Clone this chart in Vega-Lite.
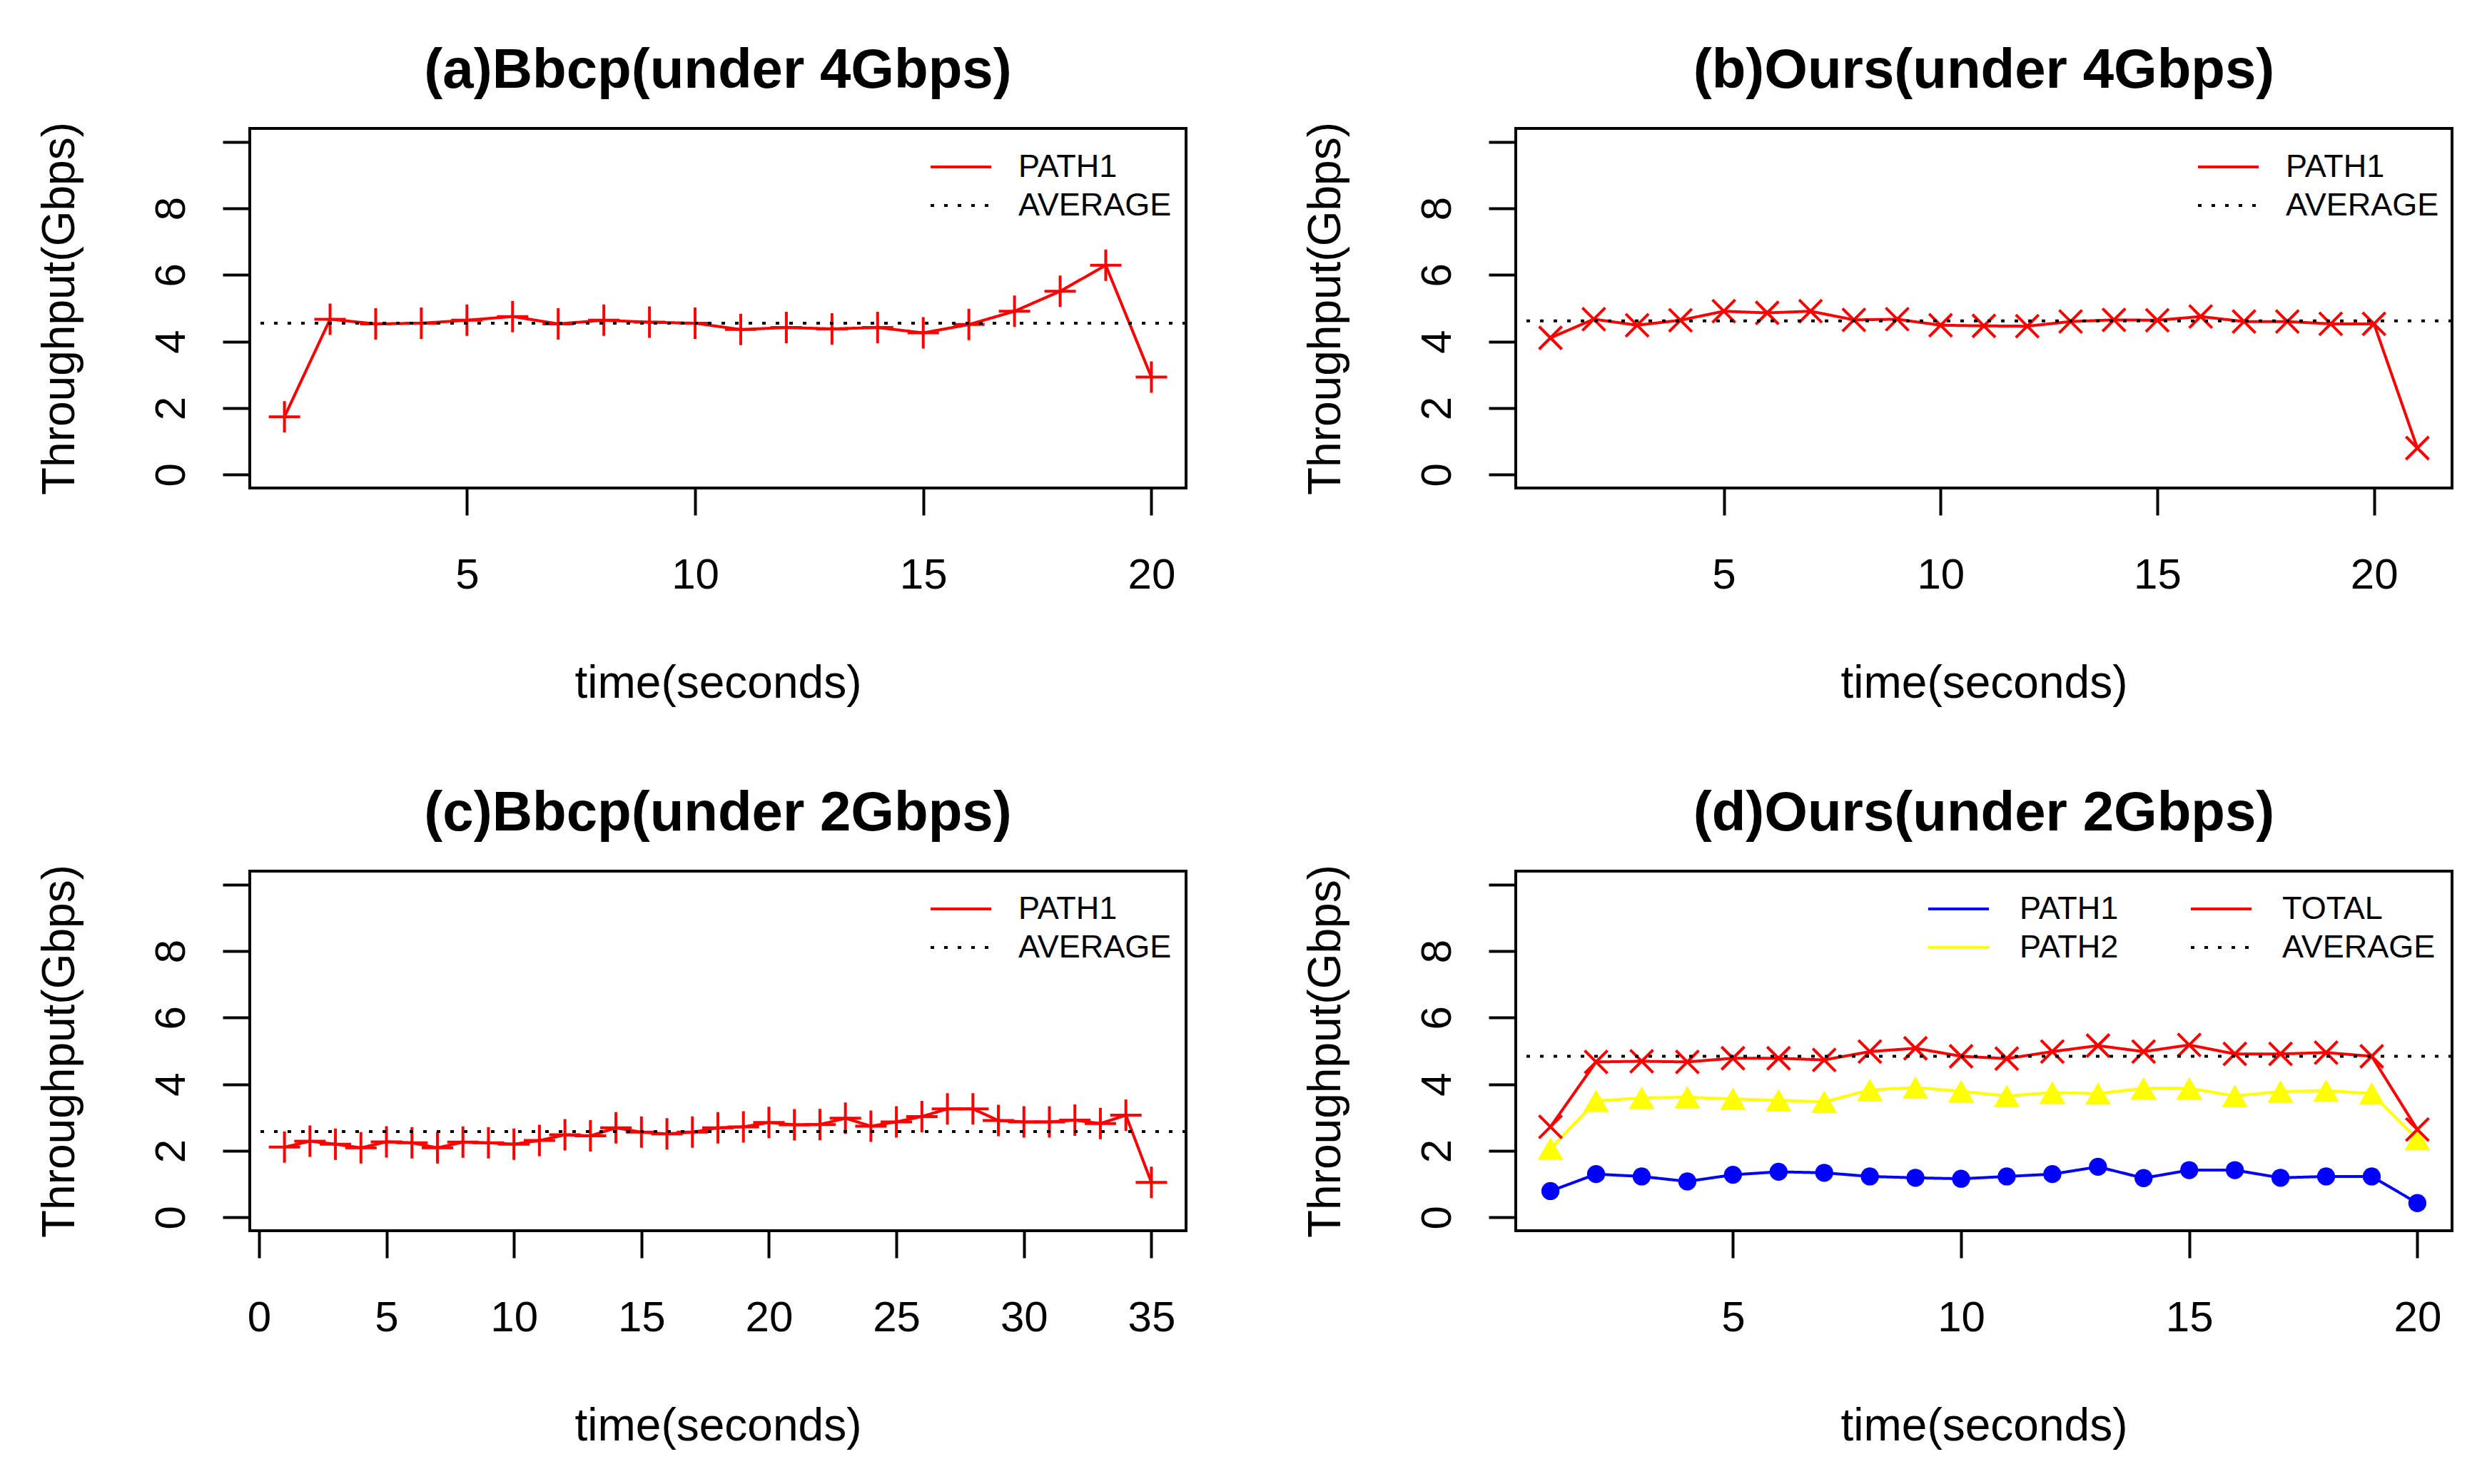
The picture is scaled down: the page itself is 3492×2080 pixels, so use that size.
{
  "$schema": "https://vega.github.io/schema/vega-lite/v6.json",
  "padding": {"left": 50, "top": 58, "right": 5, "bottom": 5},
  "background": "white",
  "config": {
    "font": "Liberation Sans",
    "view": {"stroke": "#000000", "strokeWidth": 4},
    "axis": {"grid": false, "domain": false, "tickColor": "#000000", "tickWidth": 4, "tickSize": 38, "labelFontSize": 60, "labelColor": "#000000", "titleFontSize": 64, "titleFontWeight": "normal", "titleColor": "#000000", "labelFont": "Liberation Sans", "titleFont": "Liberation Sans", "labelFlush": false, "labelOverlap": false},
    "axisX": {"labelPadding": 102, "labelBaseline": "alphabetic", "titleBaseline": "alphabetic", "titleY": 293, "titleX": 656, "titleAlign": "center", "format": "d"},
    "axisY": {"labelAngle": -90, "labelAlign": "center", "labelBaseline": "alphabetic", "labelPadding": 54, "titleAngle": -90, "titleBaseline": "alphabetic", "titleX": -247, "titleY": 252, "titleAlign": "center"},
    "title": {"fontSize": 78, "fontWeight": "bold", "color": "#000000", "offset": 32, "baseline": "alphabetic", "frame": "group", "anchor": "middle", "font": "Liberation Sans"},
    "legend": {"symbolType": "stroke", "symbolSize": 7225, "symbolStrokeWidth": 4, "labelFontSize": 45, "labelFont": "Liberation Sans", "labelColor": "#000000", "labelOffset": 36, "labelLimit": 1000, "padding": 0, "clipHeight": 52, "rowPadding": 2}
  },
  "datasets": {
    "a": [
      {"t": 1, "v": 1.74, "s": "PATH1"}, {"t": 2, "v": 4.67, "s": "PATH1"}, {"t": 3, "v": 4.53, "s": "PATH1"}, {"t": 4, "v": 4.55, "s": "PATH1"}, {"t": 5, "v": 4.64, "s": "PATH1"},
      {"t": 6, "v": 4.75, "s": "PATH1"}, {"t": 7, "v": 4.53, "s": "PATH1"}, {"t": 8, "v": 4.64, "s": "PATH1"}, {"t": 9, "v": 4.58, "s": "PATH1"}, {"t": 10, "v": 4.55, "s": "PATH1"},
      {"t": 11, "v": 4.36, "s": "PATH1"}, {"t": 12, "v": 4.42, "s": "PATH1"}, {"t": 13, "v": 4.38, "s": "PATH1"}, {"t": 14, "v": 4.42, "s": "PATH1"}, {"t": 15, "v": 4.26, "s": "PATH1"},
      {"t": 16, "v": 4.51, "s": "PATH1"}, {"t": 17, "v": 4.91, "s": "PATH1"}, {"t": 18, "v": 5.51, "s": "PATH1"}, {"t": 19, "v": 6.29, "s": "PATH1"}, {"t": 20, "v": 2.93, "s": "PATH1"}
    ],
    "avgA": [{"s": "AVERAGE", "v": 4.55}],
    "b": [
      {"t": 1, "v": 4.11, "s": "PATH1"}, {"t": 2, "v": 4.67, "s": "PATH1"}, {"t": 3, "v": 4.49, "s": "PATH1"}, {"t": 4, "v": 4.64, "s": "PATH1"}, {"t": 5, "v": 4.91, "s": "PATH1"},
      {"t": 6, "v": 4.86, "s": "PATH1"}, {"t": 7, "v": 4.91, "s": "PATH1"}, {"t": 8, "v": 4.65, "s": "PATH1"}, {"t": 9, "v": 4.67, "s": "PATH1"}, {"t": 10, "v": 4.49, "s": "PATH1"},
      {"t": 11, "v": 4.47, "s": "PATH1"}, {"t": 12, "v": 4.46, "s": "PATH1"}, {"t": 13, "v": 4.6, "s": "PATH1"}, {"t": 14, "v": 4.65, "s": "PATH1"}, {"t": 15, "v": 4.64, "s": "PATH1"},
      {"t": 16, "v": 4.75, "s": "PATH1"}, {"t": 17, "v": 4.6, "s": "PATH1"}, {"t": 18, "v": 4.6, "s": "PATH1"}, {"t": 19, "v": 4.53, "s": "PATH1"}, {"t": 20, "v": 4.53, "s": "PATH1"},
      {"t": 21, "v": 0.8, "s": "PATH1"}
    ],
    "avgB": [{"s": "AVERAGE", "v": 4.62}],
    "c": [
      {"t": 1, "v": 2.11, "s": "PATH1"}, {"t": 2, "v": 2.29, "s": "PATH1"}, {"t": 3, "v": 2.2, "s": "PATH1"}, {"t": 4, "v": 2.09, "s": "PATH1"}, {"t": 5, "v": 2.27, "s": "PATH1"},
      {"t": 6, "v": 2.24, "s": "PATH1"}, {"t": 7, "v": 2.09, "s": "PATH1"}, {"t": 8, "v": 2.26, "s": "PATH1"}, {"t": 9, "v": 2.24, "s": "PATH1"}, {"t": 10, "v": 2.2, "s": "PATH1"},
      {"t": 11, "v": 2.31, "s": "PATH1"}, {"t": 12, "v": 2.48, "s": "PATH1"}, {"t": 13, "v": 2.45, "s": "PATH1"}, {"t": 14, "v": 2.69, "s": "PATH1"}, {"t": 15, "v": 2.56, "s": "PATH1"},
      {"t": 16, "v": 2.51, "s": "PATH1"}, {"t": 17, "v": 2.56, "s": "PATH1"}, {"t": 18, "v": 2.69, "s": "PATH1"}, {"t": 19, "v": 2.72, "s": "PATH1"}, {"t": 20, "v": 2.85, "s": "PATH1"},
      {"t": 21, "v": 2.78, "s": "PATH1"}, {"t": 22, "v": 2.79, "s": "PATH1"}, {"t": 23, "v": 2.98, "s": "PATH1"}, {"t": 24, "v": 2.74, "s": "PATH1"}, {"t": 25, "v": 2.87, "s": "PATH1"},
      {"t": 26, "v": 3.03, "s": "PATH1"}, {"t": 27, "v": 3.26, "s": "PATH1"}, {"t": 28, "v": 3.26, "s": "PATH1"}, {"t": 29, "v": 2.91, "s": "PATH1"}, {"t": 30, "v": 2.87, "s": "PATH1"},
      {"t": 31, "v": 2.87, "s": "PATH1"}, {"t": 32, "v": 2.92, "s": "PATH1"}, {"t": 33, "v": 2.82, "s": "PATH1"}, {"t": 34, "v": 3.07, "s": "PATH1"}, {"t": 35, "v": 1.05, "s": "PATH1"}
    ],
    "avgC": [{"s": "AVERAGE", "v": 2.58}],
    "d": [
      {"t": 1, "v": 0.79, "s": "PATH1"}, {"t": 2, "v": 1.3, "s": "PATH1"}, {"t": 3, "v": 1.23, "s": "PATH1"}, {"t": 4, "v": 1.08, "s": "PATH1"}, {"t": 5, "v": 1.28, "s": "PATH1"},
      {"t": 6, "v": 1.37, "s": "PATH1"}, {"t": 7, "v": 1.34, "s": "PATH1"}, {"t": 8, "v": 1.23, "s": "PATH1"}, {"t": 9, "v": 1.19, "s": "PATH1"}, {"t": 10, "v": 1.16, "s": "PATH1"},
      {"t": 11, "v": 1.23, "s": "PATH1"}, {"t": 12, "v": 1.3, "s": "PATH1"}, {"t": 13, "v": 1.52, "s": "PATH1"}, {"t": 14, "v": 1.18, "s": "PATH1"}, {"t": 15, "v": 1.42, "s": "PATH1"},
      {"t": 16, "v": 1.42, "s": "PATH1"}, {"t": 17, "v": 1.19, "s": "PATH1"}, {"t": 18, "v": 1.23, "s": "PATH1"}, {"t": 19, "v": 1.23, "s": "PATH1"}, {"t": 20, "v": 0.43, "s": "PATH1"},
      {"t": 1, "v": 2.06, "s": "PATH2"}, {"t": 2, "v": 3.5, "s": "PATH2"}, {"t": 3, "v": 3.59, "s": "PATH2"}, {"t": 4, "v": 3.61, "s": "PATH2"}, {"t": 5, "v": 3.56, "s": "PATH2"},
      {"t": 6, "v": 3.52, "s": "PATH2"}, {"t": 7, "v": 3.47, "s": "PATH2"}, {"t": 8, "v": 3.83, "s": "PATH2"}, {"t": 9, "v": 3.9, "s": "PATH2"}, {"t": 10, "v": 3.79, "s": "PATH2"},
      {"t": 11, "v": 3.65, "s": "PATH2"}, {"t": 12, "v": 3.75, "s": "PATH2"}, {"t": 13, "v": 3.72, "s": "PATH2"}, {"t": 14, "v": 3.88, "s": "PATH2"}, {"t": 15, "v": 3.88, "s": "PATH2"},
      {"t": 16, "v": 3.65, "s": "PATH2"}, {"t": 17, "v": 3.78, "s": "PATH2"}, {"t": 18, "v": 3.81, "s": "PATH2"}, {"t": 19, "v": 3.72, "s": "PATH2"}, {"t": 20, "v": 2.35, "s": "PATH2"},
      {"t": 1, "v": 2.72, "s": "TOTAL"}, {"t": 2, "v": 4.67, "s": "TOTAL"}, {"t": 3, "v": 4.69, "s": "TOTAL"}, {"t": 4, "v": 4.67, "s": "TOTAL"}, {"t": 5, "v": 4.78, "s": "TOTAL"},
      {"t": 6, "v": 4.78, "s": "TOTAL"}, {"t": 7, "v": 4.73, "s": "TOTAL"}, {"t": 8, "v": 4.98, "s": "TOTAL"}, {"t": 9, "v": 5.08, "s": "TOTAL"}, {"t": 10, "v": 4.84, "s": "TOTAL"},
      {"t": 11, "v": 4.77, "s": "TOTAL"}, {"t": 12, "v": 4.98, "s": "TOTAL"}, {"t": 13, "v": 5.16, "s": "TOTAL"}, {"t": 14, "v": 4.98, "s": "TOTAL"}, {"t": 15, "v": 5.18, "s": "TOTAL"},
      {"t": 16, "v": 4.91, "s": "TOTAL"}, {"t": 17, "v": 4.91, "s": "TOTAL"}, {"t": 18, "v": 4.95, "s": "TOTAL"}, {"t": 19, "v": 4.84, "s": "TOTAL"}, {"t": 20, "v": 2.64, "s": "TOTAL"}
    ],
    "avgD": [{"s": "AVERAGE", "v": 4.84}]
  },
  "columns": 2,
  "bounds": "flush",
  "spacing": {"row": 537, "column": 462},
  "resolve": {"scale": {"x": "independent", "y": "independent", "color": "independent", "strokeDash": "independent"}},
  "concat": [
    {
      "width": 1312, "height": 504,
      "title": "(a)Bbcp(under 4Gbps)",
      "layer": [
        {"data": {"name": "a"}, "mark": {"type": "line", "strokeWidth": 4},
         "encoding": {
           "x": {"field": "t", "type": "quantitative", "scale": {"domain": [0.24, 20.76], "nice": false, "zero": false}, "axis": {"title": "time(seconds)", "values": [5, 10, 15, 20]}},
           "y": {"field": "v", "type": "quantitative", "scale": {"domain": [-0.4, 10.4], "nice": false, "zero": false}, "axis": {"title": "Throughput(Gbps)", "values": [0, 2, 4, 6, 8, 10], "labelExpr": "datum.value == 10 ? '' : datum.label"}},
           "color": {"field": "s", "type": "nominal", "scale": {"domain": ["PATH1", "AVERAGE"], "range": ["#ff0000", "#000000"]}, "legend": {"title": null, "orient": "none", "legendX": 952, "legendY": 28}},
           "strokeDash": {"field": "s", "type": "nominal", "scale": {"domain": ["PATH1", "AVERAGE"], "range": [[1, 0], [5, 14]]}, "legend": {"title": null, "orient": "none", "legendX": 952, "legendY": 28}}
         }},
        {"data": {"name": "a"}, "mark": {"type": "point", "shape": "M-1,0L1,0M0,-1L0,1", "filled": false, "color": "#ff0000", "strokeWidth": 4, "size": 1936, "opacity": 1},
         "encoding": {"x": {"field": "t", "type": "quantitative"}, "y": {"field": "v", "type": "quantitative"}}},
        {"data": {"name": "avgA"}, "mark": {"type": "rule", "strokeWidth": 4},
         "encoding": {"y": {"field": "v", "type": "quantitative"}, "color": {"field": "s", "type": "nominal"}, "strokeDash": {"field": "s", "type": "nominal"}}}
      ]
    },
    {
      "width": 1312, "height": 504,
      "title": "(b)Ours(under 4Gbps)",
      "layer": [
        {"data": {"name": "b"}, "mark": {"type": "line", "strokeWidth": 4},
         "encoding": {
           "x": {"field": "t", "type": "quantitative", "scale": {"domain": [0.2, 21.8], "nice": false, "zero": false}, "axis": {"title": "time(seconds)", "values": [5, 10, 15, 20]}},
           "y": {"field": "v", "type": "quantitative", "scale": {"domain": [-0.4, 10.4], "nice": false, "zero": false}, "axis": {"title": "Throughput(Gbps)", "values": [0, 2, 4, 6, 8, 10], "labelExpr": "datum.value == 10 ? '' : datum.label"}},
           "color": {"field": "s", "type": "nominal", "scale": {"domain": ["PATH1", "AVERAGE"], "range": ["#ff0000", "#000000"]}, "legend": {"title": null, "orient": "none", "legendX": 954, "legendY": 28}},
           "strokeDash": {"field": "s", "type": "nominal", "scale": {"domain": ["PATH1", "AVERAGE"], "range": [[1, 0], [5, 14]]}, "legend": {"title": null, "orient": "none", "legendX": 954, "legendY": 28}}
         }},
        {"data": {"name": "b"}, "mark": {"type": "point", "shape": "M-1,-1L1,1M-1,1L1,-1", "filled": false, "color": "#ff0000", "strokeWidth": 4, "size": 1024, "opacity": 1},
         "encoding": {"x": {"field": "t", "type": "quantitative"}, "y": {"field": "v", "type": "quantitative"}}},
        {"data": {"name": "avgB"}, "mark": {"type": "rule", "strokeWidth": 4},
         "encoding": {"y": {"field": "v", "type": "quantitative"}, "color": {"field": "s", "type": "nominal"}, "strokeDash": {"field": "s", "type": "nominal"}}}
      ]
    },
    {
      "width": 1312, "height": 504,
      "title": "(c)Bbcp(under 2Gbps)",
      "layer": [
        {"data": {"name": "c"}, "mark": {"type": "line", "strokeWidth": 4},
         "encoding": {
           "x": {"field": "t", "type": "quantitative", "scale": {"domain": [-0.36, 36.36], "nice": false, "zero": false}, "axis": {"title": "time(seconds)", "values": [0, 5, 10, 15, 20, 25, 30, 35]}},
           "y": {"field": "v", "type": "quantitative", "scale": {"domain": [-0.4, 10.4], "nice": false, "zero": false}, "axis": {"title": "Throughput(Gbps)", "values": [0, 2, 4, 6, 8, 10], "labelExpr": "datum.value == 10 ? '' : datum.label"}},
           "color": {"field": "s", "type": "nominal", "scale": {"domain": ["PATH1", "AVERAGE"], "range": ["#ff0000", "#000000"]}, "legend": {"title": null, "orient": "none", "legendX": 952, "legendY": 27}},
           "strokeDash": {"field": "s", "type": "nominal", "scale": {"domain": ["PATH1", "AVERAGE"], "range": [[1, 0], [5, 14]]}, "legend": {"title": null, "orient": "none", "legendX": 952, "legendY": 27}}
         }},
        {"data": {"name": "c"}, "mark": {"type": "point", "shape": "M-1,0L1,0M0,-1L0,1", "filled": false, "color": "#ff0000", "strokeWidth": 4, "size": 1936, "opacity": 1},
         "encoding": {"x": {"field": "t", "type": "quantitative"}, "y": {"field": "v", "type": "quantitative"}}},
        {"data": {"name": "avgC"}, "mark": {"type": "rule", "strokeWidth": 4},
         "encoding": {"y": {"field": "v", "type": "quantitative"}, "color": {"field": "s", "type": "nominal"}, "strokeDash": {"field": "s", "type": "nominal"}}}
      ]
    },
    {
      "width": 1312, "height": 504,
      "title": "(d)Ours(under 2Gbps)",
      "layer": [
        {"data": {"name": "d"}, "mark": {"type": "line", "strokeWidth": 4},
         "encoding": {
           "x": {"field": "t", "type": "quantitative", "scale": {"domain": [0.24, 20.76], "nice": false, "zero": false}, "axis": {"title": "time(seconds)", "values": [5, 10, 15, 20]}},
           "y": {"field": "v", "type": "quantitative", "scale": {"domain": [-0.4, 10.4], "nice": false, "zero": false}, "axis": {"title": "Throughput(Gbps)", "values": [0, 2, 4, 6, 8, 10], "labelExpr": "datum.value == 10 ? '' : datum.label"}},
           "color": {"field": "s", "type": "nominal", "scale": {"domain": ["PATH1", "PATH2", "TOTAL", "AVERAGE"], "range": ["#0000ff", "#ffff00", "#ff0000", "#000000"]}, "legend": {"title": null, "orient": "none", "legendX": 576, "legendY": 27, "columns": 2, "columnPadding": 99, "labelOffset": 41}},
           "strokeDash": {"field": "s", "type": "nominal", "scale": {"domain": ["PATH1", "PATH2", "TOTAL", "AVERAGE"], "range": [[1, 0], [1, 0], [1, 0], [5, 14]]}, "legend": {"title": null, "orient": "none", "legendX": 576, "legendY": 27, "columns": 2, "columnPadding": 99, "labelOffset": 41}}
         }},
        {"data": {"name": "d"}, "transform": [{"filter": "datum.s == 'PATH1'"}], "mark": {"type": "point", "shape": "circle", "filled": true, "color": "#0000ff", "size": 640, "opacity": 1},
         "encoding": {"x": {"field": "t", "type": "quantitative"}, "y": {"field": "v", "type": "quantitative"}}},
        {"data": {"name": "d"}, "transform": [{"filter": "datum.s == 'PATH2'"}], "mark": {"type": "point", "shape": "triangle-up", "filled": true, "color": "#ffff00", "size": 1300, "opacity": 1},
         "encoding": {"x": {"field": "t", "type": "quantitative"}, "y": {"field": "v", "type": "quantitative"}}},
        {"data": {"name": "d"}, "transform": [{"filter": "datum.s == 'TOTAL'"}], "mark": {"type": "point", "shape": "M-1,-1L1,1M-1,1L1,-1", "filled": false, "color": "#ff0000", "strokeWidth": 4, "size": 1024, "opacity": 1},
         "encoding": {"x": {"field": "t", "type": "quantitative"}, "y": {"field": "v", "type": "quantitative"}}},
        {"data": {"name": "avgD"}, "mark": {"type": "rule", "strokeWidth": 4},
         "encoding": {"y": {"field": "v", "type": "quantitative"}, "color": {"field": "s", "type": "nominal"}, "strokeDash": {"field": "s", "type": "nominal"}}}
      ]
    }
  ]
}
